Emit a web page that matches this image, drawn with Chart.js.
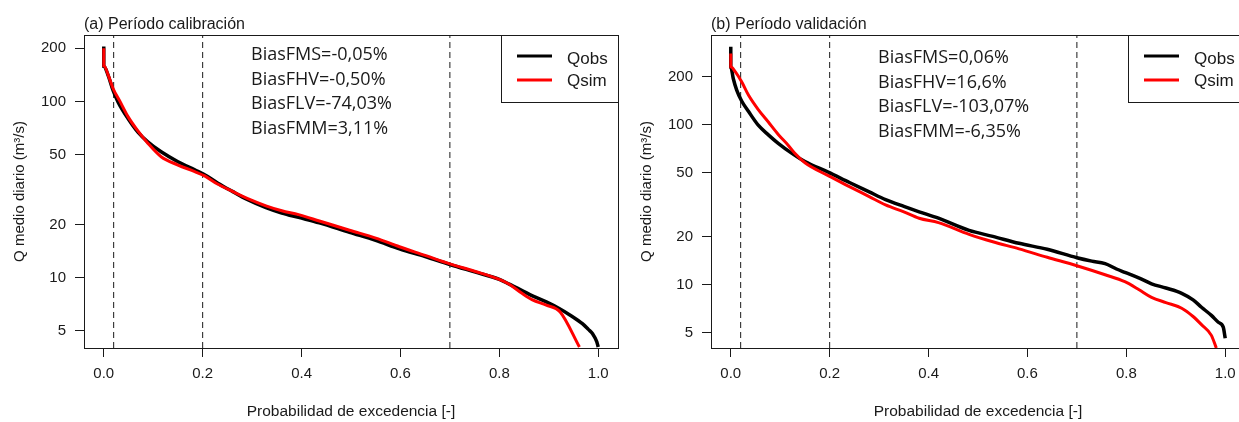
<!DOCTYPE html>
<html>
<head>
<meta charset="utf-8">
<script src="https://cdn.jsdelivr.net/npm/chart.js@4.4.1/dist/chart.umd.min.js"></script>
<style>
  html, body { margin: 0; padding: 0; background: #fff; overflow: hidden; }
  #wrap { position: relative; width: 1239px; height: 422px; overflow: hidden; }
  canvas { position: absolute; top: 0; }
  #c1 { left: 0; }
  #c2 { left: 627px; }
</style>
</head>
<body>
<div id="wrap">
  <canvas id="c1" width="620" height="422"></canvas>
  <canvas id="c2" width="620" height="422"></canvas>
</div>
<script>
/*******************************************************************************
 * DATA
 */

const SERIES_NAMES = ['Qobs', 'Qsim'];
const PANEL_TITLES = ['(a) Período calibración', '(b) Período validación'];
const X_TITLE = 'Probabilidad de excedencia [-]';
const Y_TITLE = 'Q medio diario (m³/s)';

const X_TICKS = [0, 0.2, 0.4, 0.6, 0.8, 1.0];
const Y_TICKS = [5, 10, 20, 50, 100, 200];
const X_RANGE = [-0.04, 1.04];
const Y_RANGE_CAL = [4.0, 238];
const Y_RANGE_VAL = [4.0, 365];
const REF_PROBS = [0.02, 0.2, 0.7];

const BIAS_CAL = ['BiasFMS=-0,05%', 'BiasFHV=-0,50%', 'BiasFLV=-74,03%', 'BiasFMM=3,11%'];
const BIAS_VAL = ['BiasFMS=0,06%', 'BiasFHV=16,6%', 'BiasFLV=-103,07%', 'BiasFMM=-6,35%'];

// calibration, observed
const P_CAL_OBS = [0.000, 0.000, 0.009, 0.019, 0.029, 0.049, 0.069, 0.089, 0.116, 0.150,
  0.184, 0.204, 0.230, 0.260, 0.290, 0.328, 0.360, 0.394, 0.436, 0.497,
  0.550, 0.598, 0.650, 0.700, 0.750, 0.800, 0.820, 0.845, 0.867, 0.895,
  0.921, 0.945, 0.968, 0.980, 0.989, 0.997, 1.000];
const Q_CAL_OBS = [205, 159, 140, 115, 99, 80, 67, 59, 51.8, 45.5,
  40.9, 38.4, 34.5, 30.9, 27.8, 25.0, 23.3, 22.0, 20.5, 18.1,
  16.3, 14.6, 13.2, 11.9, 10.8, 9.8, 9.2, 8.5, 7.9, 7.3,
  6.7, 6.1, 5.5, 5.1, 4.8, 4.35, 4.05];

// calibration, simulated
const P_CAL_SIM = [0.000, 0.000, 0.009, 0.019, 0.032, 0.049, 0.069, 0.089, 0.116, 0.150,
  0.184, 0.204, 0.230, 0.260, 0.290, 0.328, 0.360, 0.394, 0.436, 0.497,
  0.550, 0.598, 0.650, 0.700, 0.750, 0.800, 0.820, 0.845, 0.867, 0.895,
  0.923, 0.962];
const Q_CAL_SIM = [200, 160, 141, 118, 101, 82, 68, 58, 48.6, 43.6,
  40.0, 37.8, 34, 30.9, 28.2, 25.6, 24.0, 22.8, 21.0, 18.6,
  16.8, 15.0, 13.4, 12.0, 10.9, 9.8, 9.2, 8.2, 7.5, 7.0,
  6.4, 4.05];

// validation, observed
const P_VAL_OBS = [0.000, 0.000, 0.005, 0.012, 0.022, 0.036, 0.056, 0.076, 0.096, 0.123,
  0.150, 0.197, 0.240, 0.280, 0.313, 0.350, 0.381, 0.420, 0.482, 0.530,
  0.583, 0.640, 0.700, 0.730, 0.757, 0.780, 0.797, 0.825, 0.851, 0.880,
  0.912, 0.935, 0.952, 0.972, 0.986, 0.996, 1.000];
const Q_VAL_OBS = [308, 231, 195, 165, 141, 121, 99, 86.5, 76.5, 66.4,
  58.8, 50.5, 43.5, 38, 34, 30.8, 28.5, 26.0, 21.8, 20.0,
  18.1, 16.6, 14.7, 14.0, 13.5, 12.5, 11.9, 11.0, 10.1, 9.5,
  8.8, 8.0, 7.2, 6.4, 5.8, 5.4, 4.6];

// validation, simulated
const P_VAL_SIM = [0.000, 0.000, 0.009, 0.022, 0.036, 0.056, 0.076, 0.096, 0.116, 0.130,
  0.150, 0.197, 0.240, 0.280, 0.313, 0.350, 0.381, 0.420, 0.482, 0.530,
  0.583, 0.640, 0.700, 0.757, 0.797, 0.825, 0.851, 0.880, 0.912, 0.935,
  0.952, 0.972, 0.982];
const Q_VAL_SIM = [280, 231, 215, 186, 153, 124, 104, 87, 74.5, 66,
  57.8, 48, 41, 35.5, 31.5, 28.5, 26.0, 24.4, 20.6, 18.5,
  16.7, 14.8, 13.1, 11.5, 10.4, 9.3, 8.3, 7.7, 7.1, 6.3,
  5.6, 4.8, 4.0];

/*******************************************************************************
 * CHART
 */

const INK = '#1a1a1a';
const COLORS = ['#000000', '#ff0000'];
const AXIS_FONT = 'Liberation Sans, Arial, sans-serif';

const toPoints = (xs, ys) => xs.map((x, i) => ({ x: x, y: ys[i] }));

// box round the plot, title, bias notes and the legend
const decorations = {
  id: 'decorations',
  beforeDatasetsDraw(chart, args, opts) {
    const a = chart.chartArea;
    const ctx = chart.ctx;
    ctx.save();
    ctx.strokeStyle = INK;
    ctx.lineWidth = 1;
    ctx.strokeRect(a.left + 0.5, a.top + 0.5, a.right - a.left, a.bottom - a.top);
    ctx.restore();
  },
  afterDatasetsDraw(chart, args, opts) {
    const a = chart.chartArea;
    const ctx = chart.ctx;
    ctx.save();

    // title
    ctx.fillStyle = INK;
    ctx.font = '16px ' + AXIS_FONT;
    ctx.textAlign = 'left';
    ctx.textBaseline = 'alphabetic';
    ctx.fillText(opts.title, a.left, 29);

    // bias notes
    ctx.font = '18px "Open Sans", sans-serif';
    opts.notes.forEach((t, i) => {
      ctx.fillText(t, 251, opts.notesTop + i * 24.5);
    });

    // legend
    const lx = 501, ly = a.top, lw = a.right - 501, lh = 67;
    ctx.fillStyle = '#fff';
    ctx.fillRect(lx, ly, lw, lh);
    ctx.strokeStyle = INK;
    ctx.lineWidth = 1;
    ctx.strokeRect(lx + 0.5, ly + 0.5, lw, lh);
    ctx.font = '17px ' + AXIS_FONT;
    ctx.textBaseline = 'middle';
    const lineY = [56, 80];
    const textY = [59.5, 81.5];
    SERIES_NAMES.forEach((name, i) => {
      ctx.strokeStyle = COLORS[i];
      ctx.lineWidth = 3;
      ctx.beginPath();
      ctx.moveTo(517, lineY[i]);
      ctx.lineTo(552, lineY[i]);
      ctx.stroke();
      ctx.fillStyle = INK;
      ctx.fillText(name, 567, textY[i]);
    });
    ctx.restore();
  }
};

function renderPanel(id, title, notes, notesTop, pObs, qObs, pSim, qSim, yRange) {
  const refSets = REF_PROBS.map(p => ({
    data: [{ x: p, y: yRange[0] }, { x: p, y: yRange[1] }],
    borderColor: INK,
    borderWidth: 1,
    borderDash: [6, 4],
    pointRadius: 0,
    order: 2,
  }));

  new Chart(document.getElementById(id), {
    type: 'line',
    data: {
      datasets: [
        {
          label: SERIES_NAMES[1],
          data: toPoints(pSim, qSim),
          borderColor: COLORS[1],
          borderWidth: 3,
          pointRadius: 0,
          cubicInterpolationMode: 'monotone',
          order: 0,
        },
        {
          label: SERIES_NAMES[0],
          data: toPoints(pObs, qObs),
          borderColor: COLORS[0],
          borderWidth: 3.5,
          pointRadius: 0,
          cubicInterpolationMode: 'monotone',
          order: 1,
        },
        ...refSets,
      ],
    },
    options: {
      responsive: false,
      animation: false,
      devicePixelRatio: 1,
      layout: { padding: { top: 35, right: 2, left: 0, bottom: 0 } },
      plugins: {
        legend: { display: false },
        tooltip: { enabled: false },
        title: { display: false },
        decorations: { title: title, notes: notes, notesTop: notesTop },
      },
      scales: {
        x: {
          type: 'linear',
          min: X_RANGE[0],
          max: X_RANGE[1],
          afterBuildTicks: s => { s.ticks = X_TICKS.map(v => ({ value: v })); },
          afterFit: s => { s.height = 74; },
          ticks: {
            autoSkip: false,
            maxRotation: 0,
            padding: 8,
            color: INK,
            font: { family: AXIS_FONT, size: 15 },
            callback: v => v.toFixed(1),
          },
          grid: { drawOnChartArea: false, drawTicks: true, tickLength: 9, color: INK },
          border: { display: true, color: INK, width: 1 },
          title: {
            display: true,
            text: X_TITLE,
            color: INK,
            font: { family: AXIS_FONT, size: 15.5 },
            padding: { top: 0, bottom: 1 },
          },
        },
        y: {
          type: 'logarithmic',
          min: yRange[0],
          max: yRange[1],
          afterBuildTicks: s => { s.ticks = Y_TICKS.map(v => ({ value: v })); },
          afterFit: s => { s.width = 84; },
          ticks: {
            autoSkip: false,
            padding: 9,
            color: INK,
            font: { family: AXIS_FONT, size: 15 },
            callback: v => String(v),
          },
          grid: { drawOnChartArea: false, drawTicks: true, tickLength: 9, color: INK },
          border: { display: true, color: INK, width: 1 },
          title: {
            display: true,
            text: Y_TITLE,
            color: INK,
            font: { family: AXIS_FONT, size: 15 },
            padding: { top: 11, bottom: 0 },
          },
        },
      },
    },
    plugins: [decorations],
  });
}

renderPanel('c1', PANEL_TITLES[0], BIAS_CAL, 60, P_CAL_OBS, Q_CAL_OBS, P_CAL_SIM, Q_CAL_SIM, Y_RANGE_CAL);
renderPanel('c2', PANEL_TITLES[1], BIAS_VAL, 63, P_VAL_OBS, Q_VAL_OBS, P_VAL_SIM, Q_VAL_SIM, Y_RANGE_VAL);
</script>
</body>
</html>
